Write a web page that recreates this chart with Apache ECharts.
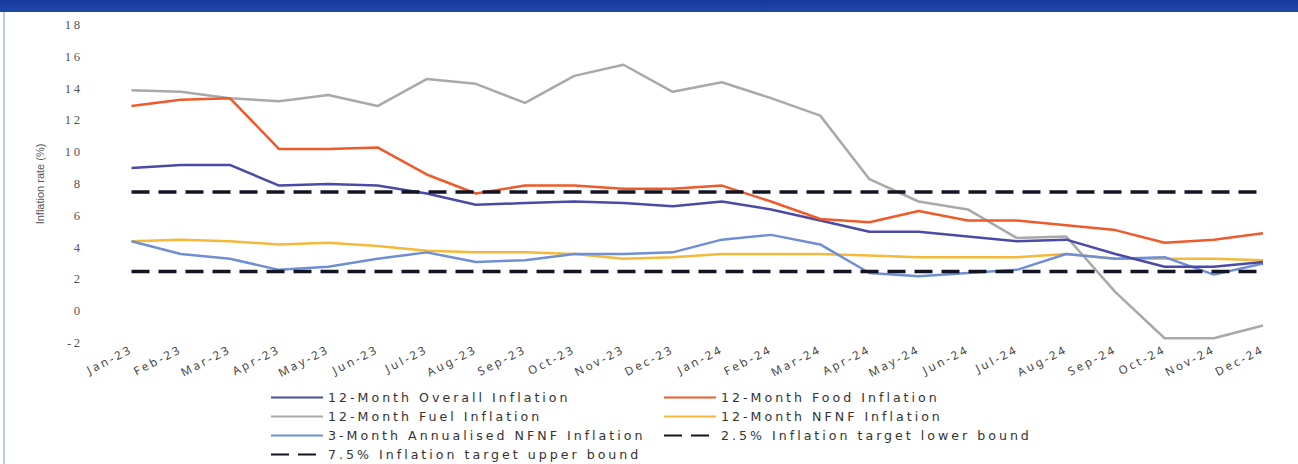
<!DOCTYPE html>
<html>
<head>
<meta charset="utf-8">
<script src="https://cdn.jsdelivr.net/npm/echarts@6/dist/echarts.min.js"></script>
<style>
html,body{margin:0;padding:0;background:#fff;}
#wrap{position:relative;width:1298px;height:464px;overflow:hidden;background:#fff;}
#banner{position:absolute;left:0;top:0;width:1298px;height:12px;background:linear-gradient(#163a9c,#1f47aa);}
#edge{position:absolute;left:3px;top:12px;width:2px;height:452px;background:#b8cbe8;}
#chart{position:absolute;left:0;top:0;width:1298px;height:464px;}
#chart text[style*="12.6px"]{letter-spacing:3px;}
#chart text[style*="11.6px"]{letter-spacing:2.6px;}
#chart text[style*="12.7px"]{letter-spacing:2.5px;}
</style>
</head>
<body>
<div id="wrap"><div id="chart"></div><div id="banner"></div><div id="edge"></div></div>
<script>
const categories = ['Jan-23','Feb-23','Mar-23','Apr-23','May-23','Jun-23','Jul-23','Aug-23','Sep-23','Oct-23','Nov-23','Dec-23',
  'Jan-24','Feb-24','Mar-24','Apr-24','May-24','Jun-24','Jul-24','Aug-24','Sep-24','Oct-24','Nov-24','Dec-24'];
const overallInflation = [9.0, 9.2, 9.2, 7.9, 8.0, 7.9, 7.4, 6.7, 6.8, 6.9, 6.8, 6.6, 6.9, 6.4, 5.7, 5.0, 5.0, 4.7, 4.4, 4.5, 3.6, 2.8, 2.8, 3.1];
const foodInflation = [12.9, 13.3, 13.4, 10.2, 10.2, 10.3, 8.6, 7.4, 7.9, 7.9, 7.7, 7.7, 7.9, 6.9, 5.8, 5.6, 6.3, 5.7, 5.7, 5.4, 5.1, 4.3, 4.5, 4.9];
const fuelInflation = [13.9, 13.8, 13.4, 13.2, 13.6, 12.9, 14.6, 14.3, 13.1, 14.8, 15.5, 13.8, 14.4, 13.4, 12.3, 8.3, 6.9, 6.4, 4.6, 4.7, 1.2, -1.7, -1.7, -0.9];
const nfnfInflation = [4.4, 4.5, 4.4, 4.2, 4.3, 4.1, 3.8, 3.7, 3.7, 3.6, 3.3, 3.4, 3.6, 3.6, 3.6, 3.5, 3.4, 3.4, 3.4, 3.6, 3.3, 3.3, 3.3, 3.2];
const annualisedNfnf = [4.4, 3.6, 3.3, 2.6, 2.8, 3.3, 3.7, 3.1, 3.2, 3.6, 3.6, 3.7, 4.5, 4.8, 4.2, 2.4, 2.2, 2.4, 2.6, 3.6, 3.3, 3.4, 2.3, 3.0];
const lowerBound = [2.5, 2.5, 2.5, 2.5, 2.5, 2.5, 2.5, 2.5, 2.5, 2.5, 2.5, 2.5, 2.5, 2.5, 2.5, 2.5, 2.5, 2.5, 2.5, 2.5, 2.5, 2.5, 2.5, 2.5];
const upperBound = [7.5, 7.5, 7.5, 7.5, 7.5, 7.5, 7.5, 7.5, 7.5, 7.5, 7.5, 7.5, 7.5, 7.5, 7.5, 7.5, 7.5, 7.5, 7.5, 7.5, 7.5, 7.5, 7.5, 7.5];
const yTicks = {min: -2, max: 18, interval: 2};

const names = {
  overall: '12-Month Overall Inflation',
  food: '12-Month Food Inflation',
  fuel: '12-Month Fuel Inflation',
  nfnf: '12-Month NFNF Inflation',
  ann: '3-Month Annualised NFNF Inflation',
  lower: '2.5% Inflation target lower bound',
  upper: '7.5% Inflation target upper bound'
};

function lineSeries(name, data, color, width, dashed) {
  return {
    name: name, type: 'line', data: data, symbol: 'none', showSymbol: false,
    lineStyle: {color: color, width: width, type: dashed ? [18, 9] : 'solid'},
    itemStyle: {color: color},
    emphasis: {disabled: true}
  };
}

const legendText = {fontFamily: 'DejaVu Sans', fontSize: 12.6, color: '#333'};
const legendBase = {orient: 'vertical', top: 391, padding: 0, itemWidth: 52, itemHeight: 14, itemGap: 6,
  itemStyle: {opacity: 0}, textStyle: legendText, selectedMode: false};
const chart = echarts.init(document.getElementById('chart'), null, {renderer: 'svg'});
chart.setOption({
  animation: false,
  backgroundColor: 'transparent',
  grid: {left: 131.5, right: 35, top: 25, bottom: 121, containLabel: false},
  xAxis: {
    type: 'category', data: categories, boundaryGap: false,
    axisLine: {show: false}, axisTick: {show: false}, splitLine: {show: false},
    axisLabel: {interval: 0, rotate: 27, margin: 5, fontFamily: 'Noto Sans', fontSize: 11.6, color: '#444'}
  },
  yAxis: {
    type: 'value', min: yTicks.min, max: yTicks.max, interval: yTicks.interval,
    name: 'Inflation rate (%)', nameLocation: 'middle', nameGap: 86, nameRotate: 90,
    nameTextStyle: {fontFamily: 'Liberation Sans Narrow, Liberation Sans', fontSize: 11, color: '#555'},
    axisLine: {show: false}, axisTick: {show: false}, splitLine: {show: false},
    axisLabel: {margin: 49, fontFamily: 'Liberation Serif', fontSize: 12.7, color: '#555'}
  },
  legend: [
    Object.assign({}, legendBase, {left: 270, data: [names.overall, names.fuel, names.ann, names.upper]}),
    Object.assign({}, legendBase, {left: 663, data: [names.food, names.nfnf, names.lower]})
  ],
  series: [
    lineSeries(names.fuel, fuelInflation, '#a9a9a9', 2.5, false),
    lineSeries(names.nfnf, nfnfInflation, '#f4b93a', 2.5, false),
    lineSeries(names.ann, annualisedNfnf, '#6e8fd4', 2.5, false),
    lineSeries(names.overall, overallInflation, '#4b4aa6', 2.5, false),
    lineSeries(names.food, foodInflation, '#ef5a2a', 2.5, false),
    lineSeries(names.lower, lowerBound, '#121424', 3.5, true),
    lineSeries(names.upper, upperBound, '#121424', 3.5, true)
  ]
});
</script>
</body>
</html>
